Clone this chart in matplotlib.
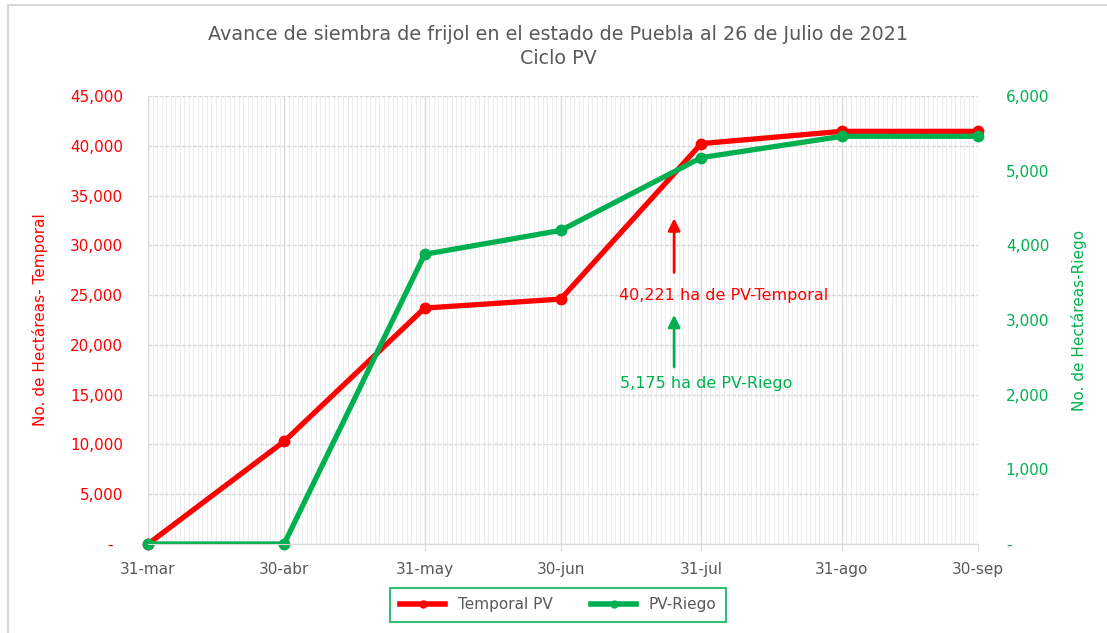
import matplotlib
matplotlib.use("Agg")
import matplotlib.pyplot as plt
import matplotlib.dates as mdates
from matplotlib.lines import Line2D
from matplotlib.patches import Rectangle
import pandas as pd

# datos
fechas = pd.to_datetime(["2021-03-31", "2021-04-30", "2021-05-31", "2021-06-30",
                         "2021-07-31", "2021-08-31", "2021-09-30"])
etiquetas_x = ["31-mar", "30-abr", "31-may", "30-jun", "31-jul", "31-ago", "30-sep"]
temporal = [0, 10300, 23700, 24600, 40221, 41450, 41450]
riego = [0, 0, 3880, 4200, 5175, 5460, 5460]

ticks_izq = [0, 5000, 10000, 15000, 20000, 25000, 30000, 35000, 40000, 45000]
ticks_der = [0, 1000, 2000, 3000, 4000, 5000, 6000]

fecha_flecha = pd.Timestamp("2021-07-25")

ROJO = "#FF0000"
VERDE = "#00B050"
GRIS = "#595959"

plt.rcParams["font.family"] = ["DejaVu Sans"]

fig = plt.figure(figsize=(11.07, 6.33), dpi=100)
fig.patches.append(Rectangle((8 / 1107, -0.1), 1.2, 1.1 - 5 / 633, transform=fig.transFigure,
                             fill=False, edgecolor="#D9D9D9", linewidth=1.5))

ax = fig.add_axes([148 / 1107, 1 - 544 / 633, (978 - 148) / 1107, (544 - 96) / 633])
ax2 = ax.twinx()

x0, x1 = fechas[0], fechas[-1]
ax.set_xlim(x0, x1)
ax.set_ylim(0, 45000)
ax2.set_ylim(0, 6000)

# rejilla
ax.xaxis.set_minor_locator(mdates.DayLocator())
ax.set_xticks(fechas)
ax.set_xticklabels(etiquetas_x)
ax.grid(True, which="minor", axis="x", color="#EDEDED", linewidth=0.8)
ax.grid(True, which="major", axis="x", color="#D9D9D9", linewidth=1)
ax.grid(True, which="major", axis="y", color="#D9D9D9", linewidth=1, linestyle=(0, (3, 1)))
ax.set_axisbelow(True)

for a in (ax, ax2):
    for s in ("left", "right", "top"):
        a.spines[s].set_visible(False)
    a.spines["bottom"].set_color("#D9D9D9")

ax.set_yticks(ticks_izq)
ax.set_yticklabels(["-  "] + [f"{v:,}" for v in ticks_izq[1:]])
ax2.set_yticks(ticks_der)
ax2.set_yticklabels(["-"] + [f"{v:,}" for v in ticks_der[1:]])

ax.tick_params(axis="y", length=0, pad=18, labelsize=11, labelcolor=ROJO)
ax2.tick_params(axis="y", length=0, pad=20, labelsize=11, labelcolor=VERDE)
ax.tick_params(axis="x", which="major", length=5, color="#D9D9D9", pad=8, labelsize=11, labelcolor=GRIS)
ax.tick_params(axis="x", which="minor", length=0)

# series
ax.plot(fechas, temporal, color=ROJO, linewidth=3.8, solid_capstyle="round")
ax.plot(fechas, temporal, linestyle="none", marker="o", markersize=7.5, color=ROJO, clip_on=False)
ax2.plot(fechas, riego, color=VERDE, linewidth=3.8, solid_capstyle="round")
ax2.plot(fechas, riego, linestyle="none", marker="o", markersize=7.5, color=VERDE, clip_on=False)

ax.set_ylabel("No. de Hectáreas- Temporal", color=ROJO, fontsize=11, labelpad=16)
ax2.set_ylabel("No. de Hectáreas-Riego", color=VERDE, fontsize=11, labelpad=16)

# anotaciones
ax.annotate("", xy=(fecha_flecha, 33000), xytext=(fecha_flecha, 27000),
            arrowprops=dict(arrowstyle="-|>", color=ROJO, lw=2, mutation_scale=18))
ax.text(pd.Timestamp("2021-08-05"), 25000, "40,221 ha de PV-Temporal", color=ROJO,
        fontsize=11.5, ha="center", va="center")
ax.annotate("", xy=(fecha_flecha, 23300), xytext=(fecha_flecha, 17500),
            arrowprops=dict(arrowstyle="-|>", color=VERDE, lw=2, mutation_scale=18))
ax.text(pd.Timestamp("2021-08-01"), 16100, "5,175 ha de PV-Riego", color=VERDE,
        fontsize=11.5, ha="center", va="center")

fig.text(558 / 1107, 1 - 35 / 633, "Avance de siembra de frijol en el estado de Puebla al 26 de Julio de 2021",
         ha="center", va="center", fontsize=13.8, color=GRIS)
fig.text(558 / 1107, 1 - 59 / 633, "Ciclo PV", ha="center", va="center", fontsize=13.8, color=GRIS)

manejadores = [
    Line2D([], [], color=ROJO, linewidth=4, marker="o", markersize=5),
    Line2D([], [], color=VERDE, linewidth=4, marker="o", markersize=5),
]
ley = fig.legend(manejadores, ["Temporal PV", "PV-Riego"], loc="center",
                 bbox_to_anchor=(558 / 1107, 1 - 605 / 633), ncol=2, frameon=True,
                 fancybox=False, fontsize=11, handlelength=3, columnspacing=2.5,
                 labelcolor=GRIS, borderpad=0.6)
ley.get_frame().set_edgecolor(VERDE)
ley.get_frame().set_linewidth(1.5)

fig.savefig("out.png", dpi=100)
